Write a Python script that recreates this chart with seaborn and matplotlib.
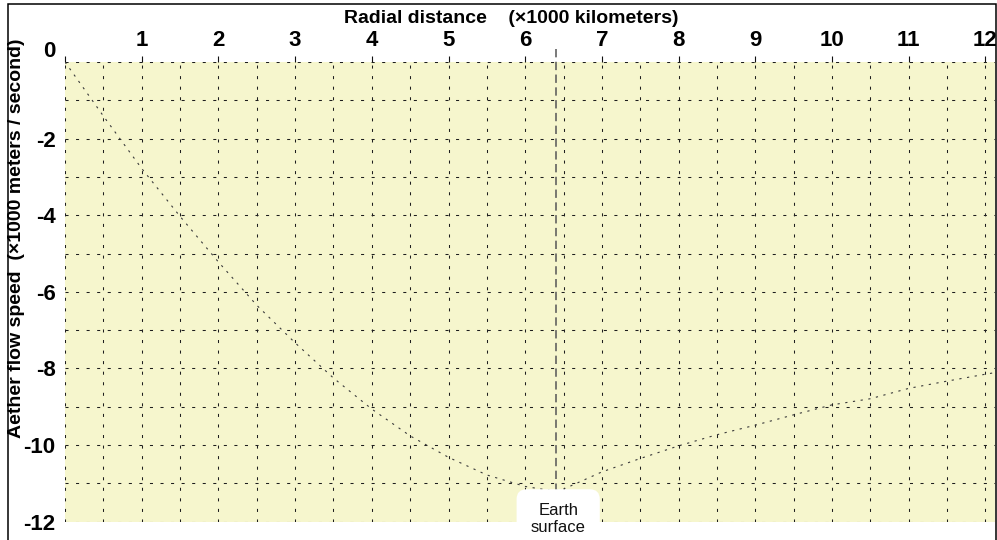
import matplotlib
matplotlib.use("Agg")
import matplotlib.pyplot as plt
from matplotlib.patches import Rectangle
from matplotlib.ticker import MultipleLocator, FixedLocator
import pandas as pd
import seaborn as sns

# Radial distance from the centre (x1000 km) and aether inflow speed (x1000 m/s)
radius = [0.0, 0.5, 1.0, 1.5, 2.0, 2.5, 3.0, 3.5, 4.0, 4.5, 5.0, 5.5, 6.0,
          6.37, 6.5, 7.0, 7.5, 8.0, 8.5, 9.0, 9.5, 10.0, 10.5, 11.0, 11.5,
          12.0, 12.12]
speed = [0.0, -1.41, -2.78, -4.03, -5.22, -6.35, -7.33, -8.25, -9.06, -9.76,
         -10.32, -10.78, -11.08, -11.2, -11.15, -10.70, -10.35, -10.02,
         -9.73, -9.48, -9.21, -8.95, -8.79, -8.52, -8.33, -8.15, -8.11]

earth_radius = 6.4
surface_label = "Earth\nsurface"

x_ticks = list(range(0, 13))
x_tick_labels = [""] + [str(v) for v in range(1, 13)]
y_ticks = [0, -2, -4, -6, -8, -10, -12]
y_tick_labels = [str(v) for v in y_ticks]

x_title = "Radial distance    (\u00d71000 kilometers)"
y_title = "Aether flow speed  (\u00d71000 meters / second)"

sns.set_style("white")
plt.rcParams["font.family"] = ["Liberation Sans", "DejaVu Sans"]
plt.rcParams["lines.scale_dashes"] = False
plt.rcParams["text.color"] = "black"
plt.rcParams["xtick.color"] = "black"
plt.rcParams["ytick.color"] = "black"

W, H = 997, 540
fig = plt.figure(figsize=(W / 100, H / 100), dpi=100)
fig.patch.set_facecolor("white")

left, right, top, bottom = 65, 995, 62, 521.7
ax = fig.add_axes([left / W, 1 - bottom / H, (right - left) / W, (bottom - top) / H])
ax.set_facecolor("#f6f6cd")
for s in ax.spines.values():
    s.set_visible(False)

df = pd.DataFrame({"r": radius, "v": speed})
sns.lineplot(data=df, x="r", y="v", ax=ax, color="#3a3a3a", linewidth=0.8,
             dashes=False, zorder=4)
ax.lines[-1].set_dashes((1.6, 4.0))

ax.set_xlim(0, 12.125)
ax.set_ylim(-12, 0)

ax.xaxis.tick_top()
ax.xaxis.set_major_locator(FixedLocator(x_ticks))
ax.set_xticklabels(x_tick_labels)
ax.xaxis.set_minor_locator(MultipleLocator(0.5))
ax.yaxis.set_major_locator(FixedLocator(y_ticks))
ax.set_yticklabels(y_tick_labels)
ax.yaxis.set_minor_locator(MultipleLocator(1))

ax.tick_params(axis="both", which="major", direction="out", length=4.3,
               width=0.8, color="#111111", labelcolor="black", labelsize=16,
               pad=2.5)
ax.tick_params(axis="x", which="major", top=True, bottom=False,
               labeltop=True, labelbottom=False, pad=3.5)
ax.tick_params(axis="both", which="minor", length=0)
for lab in ax.get_xticklabels() + ax.get_yticklabels():
    lab.set_fontweight("bold")
ax.get_yticklabels()[0].set_verticalalignment("bottom")

ax.grid(True, which="both", color="#1e1e1e", linewidth=0.75,
        linestyle=(0, (2.2, 5.4)))
ax.set_axisbelow(True)
ax.set_xlabel("")
ax.set_ylabel("")

# Earth surface marker
ax.plot([earth_radius, earth_radius], [0.33, -11.45], color="#555555",
        linewidth=1.1, dashes=(6.0, 3.2), clip_on=False, zorder=5)
ax.text(earth_radius + 0.03, -11.93, surface_label, ha="center", va="center",
        fontsize=12, color="#111111", linespacing=1.1, zorder=6, clip_on=False,
        bbox=dict(boxstyle="round,pad=0.85,rounding_size=0.6", fc="white",
                  ec="none"))

fig.text(511 / W, 1 - 18.5 / H, x_title, ha="center", va="center",
         fontsize=14, fontweight="bold", color="black")
fig.text(17 / W, 1 - 238 / H, y_title, ha="center", va="center",
         rotation=90, fontsize=14, fontweight="bold", color="black")

# Outer frame
fig.patches.append(Rectangle((8 / W, -0.01), (996 - 8) / W, (1 - 4 / H) + 0.01,
                             transform=fig.transFigure, fill=False,
                             edgecolor="black", linewidth=1.1, zorder=10))

fig.savefig("out.png", dpi=100)
